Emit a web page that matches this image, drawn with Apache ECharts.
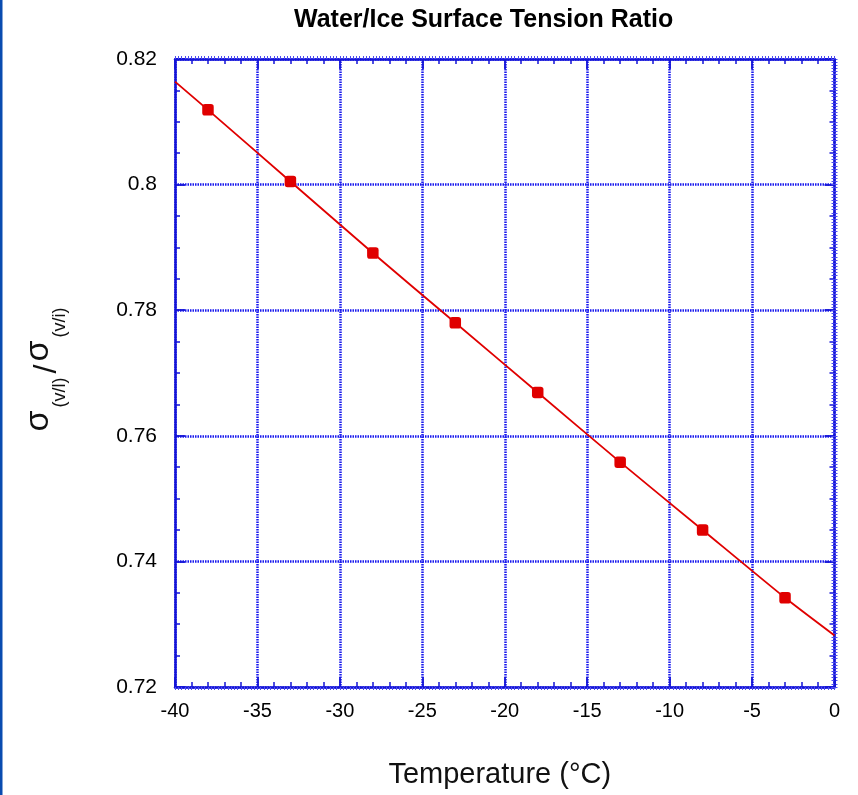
<!DOCTYPE html>
<html>
<head>
<meta charset="utf-8">
<title>Water/Ice Surface Tension Ratio</title>
<script src="https://cdn.jsdelivr.net/npm/echarts@6/dist/echarts.min.js"></script>
<style>
  html, body { margin: 0; padding: 0; background: #ffffff; }
  #chart { width: 858px; height: 795px; }
</style>
</head>
<body>
<div id="chart"></div>
<script>
// Measured ratio σ(v/l)/σ(v/i) at each temperature (°C)
const tempC = [-38, -33, -28, -23, -18, -13, -8, -3];
const ratio = [0.8119, 0.8005, 0.7891, 0.7780, 0.7669, 0.7558, 0.7450, 0.7342];

// Fitted curve across the full temperature range
const fitTemp = [-40, -38, -33, -28, -23, -18, -13, -8, -3, 0];
const fitRatio = [0.8164, 0.8119, 0.8005, 0.7891, 0.7780, 0.7669, 0.7558, 0.7450, 0.7342, 0.7282];

// Axis ranges and tick spacing
const xRange = [-40, 0];
const xStep = 5;
const yRange = [0.72, 0.82];
const yStep = 0.02;

const FONT = '"Liberation Sans", Arial, Helvetica, sans-serif';
const AXIS_BLUE = '#1414d6';
const GRID_BLUE = '#1a1aee';
const RED = '#e00000';

const chart = echarts.init(document.getElementById('chart'), null, { renderer: 'canvas' });

const gridLine = {
  show: true,
  lineStyle: { color: GRID_BLUE, width: 2.5, type: [1.5, 1], opacity: 1 }
};

// Frame axis with inward ticks (the four sides of the plot box)
function frameX(position, withLabels) {
  return {
    type: 'value', position: position, min: xRange[0], max: xRange[1], interval: xStep,
    axisLine: { show: true, onZero: false, lineStyle: { color: AXIS_BLUE, width: 2.5 } },
    axisTick: { show: true, inside: true, length: 10, lineStyle: { color: AXIS_BLUE, width: 1.8 } },
    minorTick: { show: true, splitNumber: 5, length: 5, lineStyle: { color: AXIS_BLUE, width: 1.5 } },
    splitLine: withLabels ? gridLine : { show: false },
    axisLabel: withLabels
      ? { show: true, fontSize: 20, color: '#000', fontFamily: FONT, margin: 14 }
      : { show: false }
  };
}
function frameY(position, withLabels) {
  return {
    type: 'value', position: position, min: yRange[0], max: yRange[1], interval: yStep,
    axisLine: { show: true, onZero: false, lineStyle: { color: AXIS_BLUE, width: 2.5 } },
    axisTick: { show: true, inside: true, length: 10, lineStyle: { color: AXIS_BLUE, width: 1.8 } },
    minorTick: { show: true, splitNumber: 4, length: 5, lineStyle: { color: AXIS_BLUE, width: 1.5 } },
    splitLine: withLabels ? gridLine : { show: false },
    axisLabel: withLabels
      ? { show: true, fontSize: 21, color: '#000', fontFamily: FONT, margin: 18 }
      : { show: false }
  };
}
// Fine ruler marks just outside the plot box
function rulerX(position) {
  return {
    type: 'value', position: position, min: xRange[0], max: xRange[1], interval: xStep,
    axisLine: { show: false },
    axisTick: { show: true, inside: false, length: 3, lineStyle: { color: '#4a4af0', width: 1 } },
    minorTick: { show: true, splitNumber: 25, length: 3, lineStyle: { color: '#4a4af0', width: 1 } },
    splitLine: { show: false }, axisLabel: { show: false }
  };
}
function rulerY(position) {
  return {
    type: 'value', position: position, min: yRange[0], max: yRange[1], interval: yStep,
    axisLine: { show: false },
    axisTick: { show: true, inside: false, length: 3, lineStyle: { color: '#4a4af0', width: 1 } },
    minorTick: { show: true, splitNumber: 40, length: 3, lineStyle: { color: '#4a4af0', width: 1 } },
    splitLine: { show: false }, axisLabel: { show: false }
  };
}

const xBottom = frameX('bottom', true);
xBottom.name = 'Temperature (°C)';
xBottom.nameLocation = 'middle';
xBottom.nameGap = 73;
xBottom.nameTextStyle = { fontSize: 29, color: '#111', fontFamily: FONT, padding: [0, 10, 0, 0] };

const option = {
  backgroundColor: '#ffffff',
  animation: false,
  title: {
    text: 'Water/Ice Surface Tension Ratio',
    left: 294, top: 8, padding: 0,
    textStyle: { fontSize: 25, fontWeight: 'bold', color: '#000', fontFamily: FONT }
  },
  grid: { left: 175, right: 23.5, top: 59, bottom: 108, containLabel: false },
  xAxis: [xBottom, frameX('top', false), rulerX('bottom'), rulerX('top')],
  yAxis: [frameY('left', true), frameY('right', false), rulerY('left'), rulerY('right')],
  graphic: [
    {
      type: 'rect', left: 0, top: 0, z: 100,
      shape: { x: 0, y: 0, width: 2.5, height: 795 },
      style: { fill: '#0a4cb0' }
    },
    {
      type: 'text', x: 39, y: 369, rotation: Math.PI / 2, z: 100,
      style: {
        text: '{s|σ}{sub|(v/l)}{sl|/}{s|σ}{sub|(v/i)}',
        align: 'center', verticalAlign: 'middle',
        rich: {
          s: { fontSize: 34, fontFamily: FONT, fill: '#111', verticalAlign: 'middle', padding: [0, 1, 0, 1] },
          sl: { fontSize: 32, fontFamily: FONT, fill: '#111', verticalAlign: 'middle', padding: [16, 2, 0, 2] },
          sub: { fontSize: 18, fontFamily: FONT, fill: '#111', verticalAlign: 'middle', padding: [42, 2, 0, 2] }
        }
      }
    }
  ],
  series: [
    {
      name: 'fit', type: 'line', xAxisIndex: 0, yAxisIndex: 0,
      data: fitTemp.map((t, i) => [t, fitRatio[i]]),
      showSymbol: false, smooth: 0.2,
      lineStyle: { color: RED, width: 1.8 },
      z: 3
    },
    {
      name: 'measured', type: 'scatter', xAxisIndex: 0, yAxisIndex: 0,
      data: tempC.map((t, i) => [t, ratio[i]]),
      symbol: 'roundRect', symbolSize: 11.5,
      itemStyle: { color: RED, opacity: 1 },
      z: 4
    }
  ]
};

chart.setOption(option);
</script>
</body>
</html>
